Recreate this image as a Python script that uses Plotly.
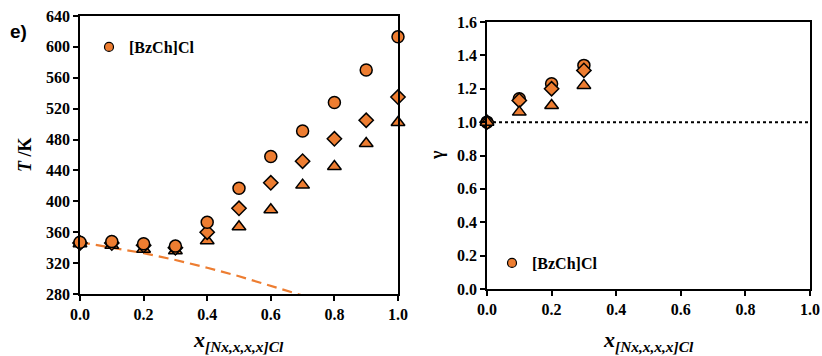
import plotly.graph_objects as go

# ---- data ----
x_frac = [0.0, 0.1, 0.2, 0.3, 0.4, 0.5, 0.6, 0.7, 0.8, 0.9, 1.0]
T_circle = [347, 348, 345, 342, 373, 417, 458, 491, 528, 570, 613]
T_diamond = [346, 346, 343, 340, 360, 391, 424, 452, 481, 505, 535]
T_triangle = [345, 343, 338, 336, 349, 367, 389, 421, 445, 475, 502]

x_ideal = [0.0, 0.1, 0.2, 0.3, 0.4, 0.5, 0.6, 0.7]
T_ideal = [347, 340, 333, 324, 314, 303, 291, 278]

x_gamma = [0.0, 0.1, 0.2, 0.3]
g_circle = [1.00, 1.14, 1.23, 1.34]
g_diamond = [1.00, 1.13, 1.20, 1.31]
g_triangle = [1.00, 1.06, 1.10, 1.22]
x_unity = [0.0, 1.0]
g_unity = [1.0, 1.0]

T_ticks = [280, 320, 360, 400, 440, 480, 520, 560, 600, 640]
g_ticks = [0.0, 0.2, 0.4, 0.6, 0.8, 1.0, 1.2, 1.4, 1.6]
x_ticks = [0.0, 0.2, 0.4, 0.6, 0.8, 1.0]

legend_name = "[BzCh]Cl"

ORANGE = "#ED7D31"
SERIF = "Liberation Serif"
line_black = dict(color="black", width=1.5)

fig = go.Figure()

# left panel
fig.add_trace(go.Scatter(x=x_ideal, y=T_ideal, mode="lines",
                         line=dict(color=ORANGE, width=2.2, dash="10px,6px"),
                         showlegend=False, xaxis="x", yaxis="y"))
fig.add_trace(go.Scatter(x=x_frac, y=T_triangle, mode="markers", cliponaxis=False,
                         marker=dict(symbol="triangle-up", size=12, color=ORANGE, line=line_black),
                         showlegend=False, xaxis="x", yaxis="y"))
fig.add_trace(go.Scatter(x=x_frac, y=T_diamond, mode="markers", cliponaxis=False,
                         marker=dict(symbol="diamond", size=11, color=ORANGE, line=line_black),
                         showlegend=False, xaxis="x", yaxis="y"))
fig.add_trace(go.Scatter(x=x_frac, y=T_circle, mode="markers", cliponaxis=False,
                         marker=dict(symbol="circle", size=12, color=ORANGE, line=line_black),
                         showlegend=False, xaxis="x", yaxis="y"))
# legend entry (no data points drawn)
fig.add_trace(go.Scatter(x=[None], y=[None], mode="markers", name=f"<b>{legend_name}</b>",
                         marker=dict(symbol="circle", size=9, color=ORANGE,
                                     line=dict(color="black", width=1.2)),
                         showlegend=True, legend="legend", xaxis="x", yaxis="y"))

# right panel
fig.add_trace(go.Scatter(x=x_unity, y=g_unity, mode="lines",
                         line=dict(color="black", width=2, dash="dot"),
                         showlegend=False, xaxis="x2", yaxis="y2"))
fig.add_trace(go.Scatter(x=x_gamma, y=g_circle, mode="markers", cliponaxis=False,
                         marker=dict(symbol="circle", size=12, color=ORANGE, line=line_black),
                         showlegend=False, xaxis="x2", yaxis="y2"))
fig.add_trace(go.Scatter(x=x_gamma, y=g_diamond, mode="markers", cliponaxis=False,
                         marker=dict(symbol="diamond", size=11, color=ORANGE, line=line_black),
                         showlegend=False, xaxis="x2", yaxis="y2"))
fig.add_trace(go.Scatter(x=x_gamma, y=g_triangle, mode="markers", cliponaxis=False,
                         marker=dict(symbol="triangle-up", size=12, color=ORANGE, line=line_black),
                         showlegend=False, xaxis="x2", yaxis="y2"))
fig.add_trace(go.Scatter(x=[None], y=[None], mode="markers", name=f"<b>{legend_name}</b>",
                         marker=dict(symbol="circle", size=9, color=ORANGE,
                                     line=dict(color="black", width=1.2)),
                         showlegend=True, legend="legend2", xaxis="x2", yaxis="y2"))

tickfont = dict(family=SERIF, size=16, color="black")
axis_common = dict(showgrid=False, zeroline=False, showline=True, linecolor="black",
                   linewidth=1.5, mirror=True, ticks="outside", ticklen=5,
                   tickcolor="black", tickwidth=1.5, tickfont=tickfont, automargin=False)

W, H = 822, 356
legfont = dict(family=SERIF, size=16, color="black")
fig.update_layout(
    template="none",
    font=dict(family=SERIF, size=16, color="black"),
    width=W, height=H,
    margin=dict(l=0, r=0, t=0, b=0, autoexpand=False),
    paper_bgcolor="white", plot_bgcolor="white",
    xaxis=dict(domain=[80 / W, 398 / W], range=[0, 1], tickvals=x_ticks,
               ticktext=[f"<b>{v:.1f}</b>" for v in x_ticks], anchor="y", **axis_common),
    yaxis=dict(domain=[1 - 294 / H, 1 - 16 / H], range=[280, 640], tickvals=T_ticks,
               ticktext=[f"<b>{v}</b>" for v in T_ticks], anchor="x", **axis_common),
    xaxis2=dict(domain=[487 / W, 810 / W], range=[0, 1], tickvals=x_ticks,
                ticktext=[f"<b>{v:.1f}</b>" for v in x_ticks], anchor="y2", **axis_common),
    yaxis2=dict(domain=[1 - 289 / H, 1 - 22 / H], range=[0, 1.6], tickvals=g_ticks,
                ticktext=[f"<b>{v:.1f}</b>" for v in g_ticks], anchor="x2", **axis_common),
    legend=dict(x=89 / W, y=1 - 30 / H, xanchor="left", yanchor="top",
                bgcolor="rgba(0,0,0,0)", itemsizing="trace", borderwidth=0,
                font=legfont, itemwidth=30, tracegroupgap=0),
    legend2=dict(x=492 / W, y=1 - 246 / H, xanchor="left", yanchor="top",
                 bgcolor="rgba(0,0,0,0)", itemsizing="trace", borderwidth=0,
                 font=legfont, itemwidth=30, tracegroupgap=0),
    annotations=[
        dict(text="<b>e)</b>", x=8 / W, y=1 - 31 / H, xref="paper", yref="paper",
             xanchor="left", yanchor="middle", showarrow=False,
             font=dict(family="Liberation Sans", size=19, color="black")),
        dict(text="<b><i>T</i> /K</b>", x=25 / W, y=1 - 155 / H, xref="paper", yref="paper",
             textangle=-90, xanchor="center", yanchor="middle", showarrow=False,
             font=dict(family=SERIF, size=18, color="black")),
        dict(text="<b>γ</b>", x=437 / W, y=1 - 155 / H, xref="paper", yref="paper",
             textangle=-90, xanchor="center", yanchor="middle", showarrow=False,
             font=dict(family=SERIF, size=18, color="black")),
        dict(text="<b><i>x</i><sub><i>[Nx,x,x,x]Cl</i></sub></b>", x=239 / W, y=1 - 341 / H,
             xref="paper", yref="paper", xanchor="center", yanchor="middle", showarrow=False,
             font=dict(family=SERIF, size=22, color="black")),
        dict(text="<b><i>x</i><sub><i>[Nx,x,x,x]Cl</i></sub></b>", x=648 / W, y=1 - 341 / H,
             xref="paper", yref="paper", xanchor="center", yanchor="middle", showarrow=False,
             font=dict(family=SERIF, size=22, color="black")),
    ],
)

fig.write_html("out.html", config={"displayModeBar": False},
               post_script="document.body.style.margin='0px';")
